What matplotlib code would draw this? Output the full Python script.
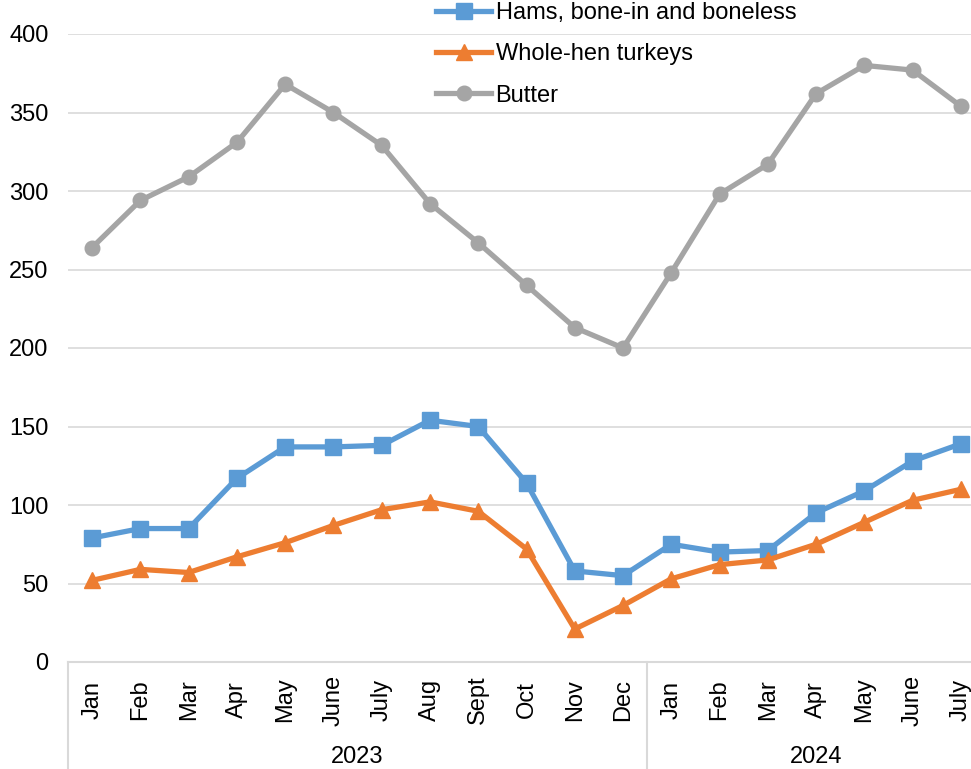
import matplotlib.pyplot as plt
from matplotlib.lines import Line2D

plt.rcParams['font.family'] = ['Liberation Sans', 'DejaVu Sans']

months = ['Jan', 'Feb', 'Mar', 'Apr', 'May', 'June', 'July', 'Aug', 'Sept', 'Oct', 'Nov', 'Dec',
          'Jan', 'Feb', 'Mar', 'Apr', 'May', 'June', 'July']
years = ['2023', '2024']
year_sizes = [12, 7]

hams = [79, 85, 85, 117, 137, 137, 138, 154, 150, 114, 58, 55,
        75, 70, 71, 95, 109, 128, 139]
turkeys = [52, 59, 57, 67, 76, 87, 97, 102, 96, 72, 21, 36,
           53, 62, 65, 75, 89, 103, 110]
butter = [264, 294, 309, 331, 368, 350, 329, 292, 267, 240, 213, 200,
          248, 298, 317, 362, 380, 377, 354]

BLUE = '#5B9BD5'
ORANGE = '#ED7D31'
GRAY = '#A5A5A5'
GRID = '#D9D9D9'
FS = 17

fig = plt.figure(figsize=(9.71, 7.69), dpi=100)
# plot area runs a little past the right edge of the figure
ax = fig.add_axes([68 / 971, 107 / 769, 917 / 971, 628 / 769])

x = list(range(len(months)))
ax.plot(x, hams, color=BLUE, lw=3.8, marker='s', ms=11, label='Hams, bone-in and boneless', zorder=3)
ax.plot(x, turkeys, color=ORANGE, lw=3.8, marker='^', ms=11, label='Whole-hen turkeys', zorder=3)
ax.plot(x, butter, color=GRAY, lw=3.8, marker='o', ms=10.5, label='Butter', zorder=3)

ax.set_xlim(-0.5, len(months) - 0.5)
ax.set_ylim(0, 400)
ax.set_yticks(range(0, 401, 50))
ax.yaxis.grid(True, color=GRID, lw=1.2)
ax.set_axisbelow(True)
ax.tick_params(axis='y', length=0, pad=14, labelsize=FS)
ax.set_xticks([])
for side in ['top', 'right', 'left']:
    ax.spines[side].set_visible(False)
ax.spines['bottom'].set_color(GRID)
ax.spines['bottom'].set_linewidth(1.5)

# two-level category axis: months, then years with separators
trans = ax.get_xaxis_transform()
for i, m in enumerate(months):
    ax.text(i, -0.0605, m, rotation=90, ha='center', va='center', fontsize=FS, transform=trans)

start = 0
for yr, n in zip(years, year_sizes):
    ax.add_line(Line2D([start - 0.5, start - 0.5], [0, -0.2], transform=trans,
                       color=GRID, lw=1.5, clip_on=False))
    ax.text(start - 0.5 + n / 2, -0.151, yr, ha='center', va='center', fontsize=FS, transform=trans)
    start += n
ax.add_line(Line2D([start - 0.5, start - 0.5], [0, -0.2], transform=trans,
                   color=GRID, lw=1.5, clip_on=False))

ax.legend(loc='upper left', bbox_to_anchor=(436 / 971, 1.0 - 2 / 769), bbox_transform=fig.transFigure,
          frameon=False, fontsize=FS, handlelength=2.35, handletextpad=0.17, labelspacing=0.82,
          borderpad=0, borderaxespad=0)

fig.savefig('out.png', dpi=100)
